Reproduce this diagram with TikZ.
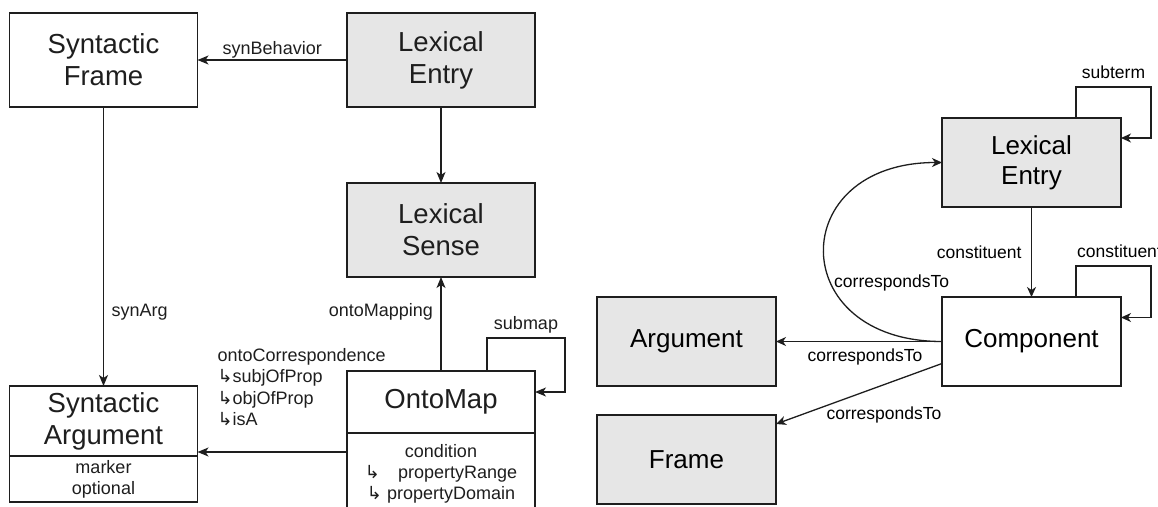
\documentclass[tikz,border=0pt]{standalone}
\usepackage{fontspec}
\setmainfont{Liberation Sans}
\newfontfamily\arrowfont{DejaVu Sans}
\usepackage{xcolor}
\usetikzlibrary{positioning, arrows.meta}
\definecolor{boxfill}{RGB}{230,230,230}
\definecolor{ink}{RGB}{30,30,30}
\newcommand{\hookarr}{{\arrowfont ↳}}

\begin{document}
\begin{tikzpicture}[x=1pt, y=-1pt, every node/.style={outer sep=0pt},
  cls/.style={draw=ink, line width=1.4pt, minimum width=188pt, minimum height=94pt,
    align=center, text=ink, inner sep=4pt, font=\fontsize{27.5}{32}\selectfont},
  lex/.style={fill=boxfill},
  attr/.style={draw=ink, line width=1.4pt, minimum width=188pt, align=center,
    text=ink, inner sep=3pt, font=\fontsize{18}{21}\selectfont},
  lbl/.style={text=ink, inner sep=2pt, font=\fontsize{18}{21.5}\selectfont},
  arr/.style={-{Stealth[length=11pt, width=9pt, inset=3pt]}, draw=ink, line width=1.4pt},
  rcls/.style={draw=ink, line width=1.4pt, minimum width=179pt, minimum height=89pt,
    align=center, text=black, inner sep=4pt, font=\fontsize{26}{30}\selectfont},
  rlbl/.style={text=black, inner sep=2pt, font=\fontsize{17.5}{20}\selectfont},
  rarr/.style={-{Stealth[length=10pt, width=9pt, inset=3pt]}, draw=ink, line width=1.3pt}]
\useasboundingbox (0,0) rectangle (1158,506);
\clip (0,0) rectangle (1158,506);

% lemon core: entries, senses and syntactic frames
\node[cls] (synframe) at (103.5,60) {Syntactic\\Frame};
\node[cls, lex] (lexentry) at (441,60) {Lexical\\Entry};
\node[cls, lex, below=76pt of lexentry] (lexsense) {Lexical\\Sense};
\node[cls, minimum height=70pt] (synarg) at (103.5,421) {Syntactic\\Argument};
\node[attr, minimum height=46pt, below=0pt of synarg] (synargattr) {marker\\optional};
\node[cls, minimum height=62pt] (ontomap) at (441,402) {OntoMap};
\node[attr, minimum height=82pt, below=0pt of ontomap] (ontomapattr)
  {condition\\\hookarr\quad propertyRange\\\hookarr\ propertyDomain};

\draw[arr] (lexentry) -- (synframe) node[lbl, midway, above] {synBehavior};
\draw[arr] (lexentry) -- (lexsense);
\draw[arr] (synframe) -- (synarg) node[lbl, pos=.735, right=6pt] {synArg};
\draw[arr] (ontomap) -- (lexsense) node[lbl, pos=.63, left=6pt] {ontoMapping};
\draw[arr] ([yshift=-19pt]ontomap.south west) -- ([yshift=-19pt]ontomap.south west -| synarg.east)
  node[lbl, pos=1, anchor=south west, align=left, xshift=18pt, yshift=24pt]
  {ontoCorrespondence\\\hookarr subjOfProp\\\hookarr objOfProp\\\hookarr isA};
\draw[arr] ([xshift=46pt]ontomap.north) |- ([xshift=30pt, yshift=33pt]ontomap.north east)
  node[lbl, pos=.75, above, yshift=3pt] {submap} |- ([yshift=10pt]ontomap.east);

% decomposition module
\node[rcls, lex] (rlexentry) at (1031.5,162.5) {Lexical\\Entry};
\node[rcls, below=90pt of rlexentry] (component) {Component};
\node[rcls, lex, left=166pt of component] (argument) {Argument};
\node[rcls, lex, below=29pt of argument] (frame) {Frame};

\draw[rarr] (rlexentry) -- (component) node[rlbl, midway, left=8pt] {constituent};
\draw[rarr] ([xshift=44.5pt]rlexentry.north) |- ([xshift=30pt, yshift=31pt]rlexentry.north east)
  node[rlbl, pos=.75, above, yshift=6pt] {subterm} |- ([yshift=24.5pt]rlexentry.east);
\draw[rarr] ([xshift=44.5pt]component.north) |- ([xshift=30pt, yshift=31pt]component.north east)
  node[rlbl, pos=.75, above, xshift=6pt, yshift=6pt] {constituent} |- ([yshift=24pt]component.east);
\draw[rarr] (component.west) to[out=180, in=180, looseness=2.25] (rlexentry.west);
\node[rlbl, anchor=south east] (corrlbl) at ([xshift=9pt, yshift=4pt]component.north west) {correspondsTo};
\draw[rarr] (component.west) -- (argument.east)
  node[rlbl, midway, below, xshift=6pt, yshift=-5pt] {correspondsTo};
\draw[rarr] ([yshift=-22pt]component.west) -- ([yshift=-9pt]frame.north east)
  node[rlbl, pos=.35, below=20pt] {correspondsTo};
\end{tikzpicture}
\end{document}
